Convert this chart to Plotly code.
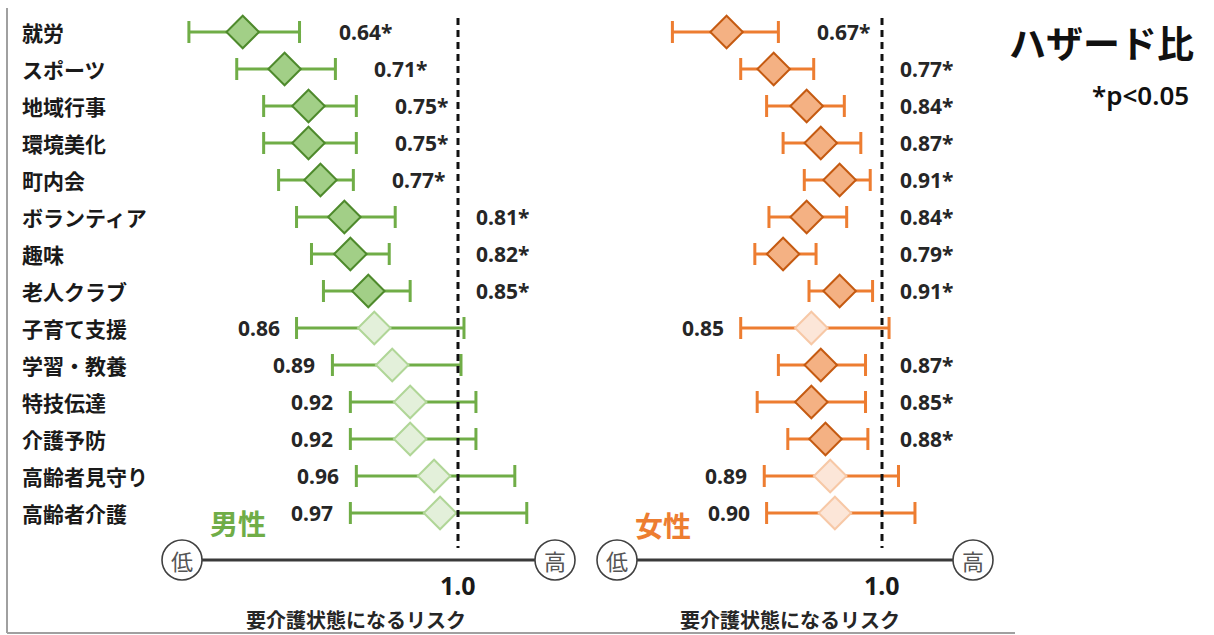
import plotly.graph_objects as go

# ---------------- data ----------------
categories = ["就労", "スポーツ", "地域行事", "環境美化", "町内会", "ボランティア", "趣味",
              "老人クラブ", "子育て支援", "学習・教養", "特技伝達", "介護予防", "高齢者見守り", "高齢者介護"]

male_hr = [0.64, 0.71, 0.75, 0.75, 0.77, 0.81, 0.82, 0.85, 0.86, 0.89, 0.92, 0.92, 0.96, 0.97]
male_lo = [0.55, 0.63, 0.675, 0.675, 0.70, 0.73, 0.755, 0.775, 0.73, 0.79, 0.82, 0.82, 0.83, 0.82]
male_hi = [0.735, 0.795, 0.83, 0.83, 0.825, 0.895, 0.885, 0.92, 1.01, 1.005, 1.03, 1.03, 1.095, 1.115]
male_sig = [True, True, True, True, True, True, True, True, False, False, False, False, False, False]

female_hr = [0.67, 0.77, 0.84, 0.87, 0.91, 0.84, 0.79, 0.91, 0.85, 0.87, 0.85, 0.88, 0.89, 0.90]
female_lo = [0.555, 0.70, 0.755, 0.79, 0.835, 0.76, 0.73, 0.845, 0.70, 0.78, 0.735, 0.80, 0.75, 0.755]
female_hi = [0.78, 0.855, 0.92, 0.955, 0.975, 0.925, 0.86, 0.98, 1.015, 0.965, 0.965, 0.97, 1.035, 1.07]
female_sig = [True, True, True, True, True, True, True, True, False, True, True, True, False, False]

ref_value = 1.0
panel_names = ["男性", "女性"]
axis_title = "要介護状態になるリスク"
title_text = "ハザード比"
note_text = "*p<0.05"

# ---------------- layout helpers ----------------
W, H = 1214, 635
def fx(px):
    return px / W
def fy(py):
    return 1 - py / H

ROW0, STEP = 32, 37
JP = "Noto Sans CJK JP"
NUM = "Noto Sans"

panels = [
    dict(name=panel_names[0], hr=male_hr, lo=male_lo, hi=male_hi, sig=male_sig,
         xa="x", line_px=458, scale=598, dom=(150, 590),
         err="#70AD47", fill_s="#A2CF87", edge_s="#4E8A2C", fill_n="#E3F0DA", edge_n="#B0D697",
         name_color="#70AD47", name_pos=(238, 523), low_c=182, high_c=555, title_c=356),
    dict(name=panel_names[1], hr=female_hr, lo=female_lo, hi=female_hi, sig=female_sig,
         xa="x2", line_px=882, scale=471, dom=(595, 1010),
         err="#ED7D31", fill_s="#F4B183", edge_s="#C55A11", fill_n="#FCE6D8", edge_n="#F7C8A6",
         name_color="#ED7D31", name_pos=(663, 525), low_c=617, high_c=973, title_c=790),
]

fig = go.Figure()
annotations = []
shapes = []

for p in panels:
    hr, lo, hi, sig = p["hr"], p["lo"], p["hi"], p["sig"]
    fig.add_trace(go.Scatter(
        x=hr, y=categories, xaxis=p["xa"], yaxis="y", mode="markers",
        marker=dict(symbol="diamond", size=25,
                    color=[p["fill_s"] if s else p["fill_n"] for s in sig],
                    line=dict(width=2, color=[p["edge_s"] if s else p["edge_n"] for s in sig])),
        error_x=dict(type="data", symmetric=False,
                     array=[h - v for h, v in zip(hi, hr)],
                     arrayminus=[v - l for v, l in zip(hr, lo)],
                     color=p["err"], thickness=3, width=11),
        showlegend=False, hoverinfo="skip"))

    def to_px(v, p=p):
        return p["line_px"] + p["scale"] * (v - ref_value)

    # value labels
    for c, v, l, h, s in zip(categories, hr, lo, hi, sig):
        if s:
            start = to_px(h) + 37
            if start + 58 > p["line_px"]:
                annotations.append(dict(x=ref_value, xref=p["xa"], y=c, yref="y", xshift=16,
                                        xanchor="left", text=f"{v:.2f}*", showarrow=False,
                                        font=dict(family=NUM, size=21, color="#262626", weight="bold")))
            else:
                annotations.append(dict(x=h, xref=p["xa"], y=c, yref="y", xshift=37,
                                        xanchor="left", text=f"{v:.2f}*", showarrow=False,
                                        font=dict(family=NUM, size=21, color="#262626", weight="bold")))
        else:
            annotations.append(dict(x=l, xref=p["xa"], y=c, yref="y", xshift=-15,
                                    xanchor="right", text=f"{v:.2f}", showarrow=False,
                                    font=dict(family=NUM, size=21, color="#262626", weight="bold")))

    # dashed reference line
    shapes.append(dict(type="line", xref=p["xa"], x0=ref_value, x1=ref_value,
                       yref="paper", y0=fy(18), y1=fy(548),
                       line=dict(color="#111111", width=3, dash="7px,5px")))
    # risk axis line with circles
    r = 20
    shapes.append(dict(type="line", xref="paper", yref="paper",
                       x0=fx(p["low_c"] + r), x1=fx(p["high_c"] - r), y0=fy(560), y1=fy(560),
                       line=dict(color="#3a3a3a", width=3)))
    for cx, t in [(p["low_c"], "低"), (p["high_c"], "高")]:
        shapes.append(dict(type="circle", xref="paper", yref="paper",
                           x0=fx(cx - r), x1=fx(cx + r), y0=fy(560 + r), y1=fy(560 - r),
                           line=dict(color="#404040", width=1.6), fillcolor="white"))
        annotations.append(dict(x=fx(cx), y=fy(560), xref="paper", yref="paper", text=t,
                                showarrow=False, xanchor="center", yanchor="middle",
                                font=dict(family=JP, size=22, color="#555555")))
    # "1.0" tick label
    annotations.append(dict(x=ref_value, xref=p["xa"], y=fy(585), yref="paper", text="1.0",
                            showarrow=False, xanchor="center", yanchor="middle",
                            font=dict(family=NUM, size=25, color="#1a1a1a", weight="bold")))
    # axis title
    annotations.append(dict(x=fx(p["title_c"]), y=fy(619), xref="paper", yref="paper", text=axis_title,
                            showarrow=False, xanchor="center", yanchor="middle",
                            font=dict(family=JP, size=20, color="#262626", weight="bold")))
    # panel name
    annotations.append(dict(x=fx(p["name_pos"][0]), y=fy(p["name_pos"][1]), xref="paper", yref="paper",
                            text=p["name"], showarrow=False, xanchor="center", yanchor="middle",
                            font=dict(family=JP, size=28, color=p["name_color"], weight="bold")))

# category labels
for c in categories:
    annotations.append(dict(x=fx(20), xref="paper", y=c, yref="y", text=c, showarrow=False,
                            xanchor="left", yanchor="middle",
                            font=dict(family=JP, size=21, color="#1a1a1a", weight="bold")))

# title and note
annotations.append(dict(x=fx(1101), y=fy(42), xref="paper", yref="paper", text=title_text,
                        showarrow=False, xanchor="center", yanchor="middle",
                        font=dict(family=JP, size=37, color="#111111", weight="bold")))
annotations.append(dict(x=fx(1191), y=fy(95), xref="paper", yref="paper", text=note_text,
                        showarrow=False, xanchor="right", yanchor="middle",
                        font=dict(family=NUM, size=26, color="#111111", weight=600)))

# frame lines
shapes.append(dict(type="line", xref="paper", yref="paper", x0=fx(7), x1=fx(7), y0=fy(8), y1=fy(633),
                   line=dict(color="#a0a0a0", width=2)))
shapes.append(dict(type="line", xref="paper", yref="paper", x0=fx(7), x1=fx(1015), y0=fy(633), y1=fy(633),
                   line=dict(color="#a0a0a0", width=2)))

def xrange(p):
    return [ref_value + (p["dom"][0] - p["line_px"]) / p["scale"],
            ref_value + (p["dom"][1] - p["line_px"]) / p["scale"]]

hidden = dict(showgrid=False, zeroline=False, showticklabels=False, showline=False, ticks="")

fig.update_layout(
    width=W, height=H, margin=dict(l=0, r=0, t=0, b=0),
    paper_bgcolor="white", plot_bgcolor="rgba(0,0,0,0)",
    xaxis=dict(domain=[fx(panels[0]["dom"][0]), fx(panels[0]["dom"][1])], range=xrange(panels[0]),
               anchor="y", **hidden),
    xaxis2=dict(domain=[fx(panels[1]["dom"][0]), fx(panels[1]["dom"][1])], range=xrange(panels[1]),
                anchor="y", **hidden),
    yaxis=dict(domain=[0, 1], type="category", categoryorder="array", categoryarray=categories,
               range=[(H - ROW0) / STEP, -ROW0 / STEP], anchor="x", **hidden),
    annotations=annotations, shapes=shapes, showlegend=False,
)

fig.write_html("out.html", config={"displayModeBar": False},
               post_script="document.body.style.margin='0';document.body.style.overflow='hidden';")
